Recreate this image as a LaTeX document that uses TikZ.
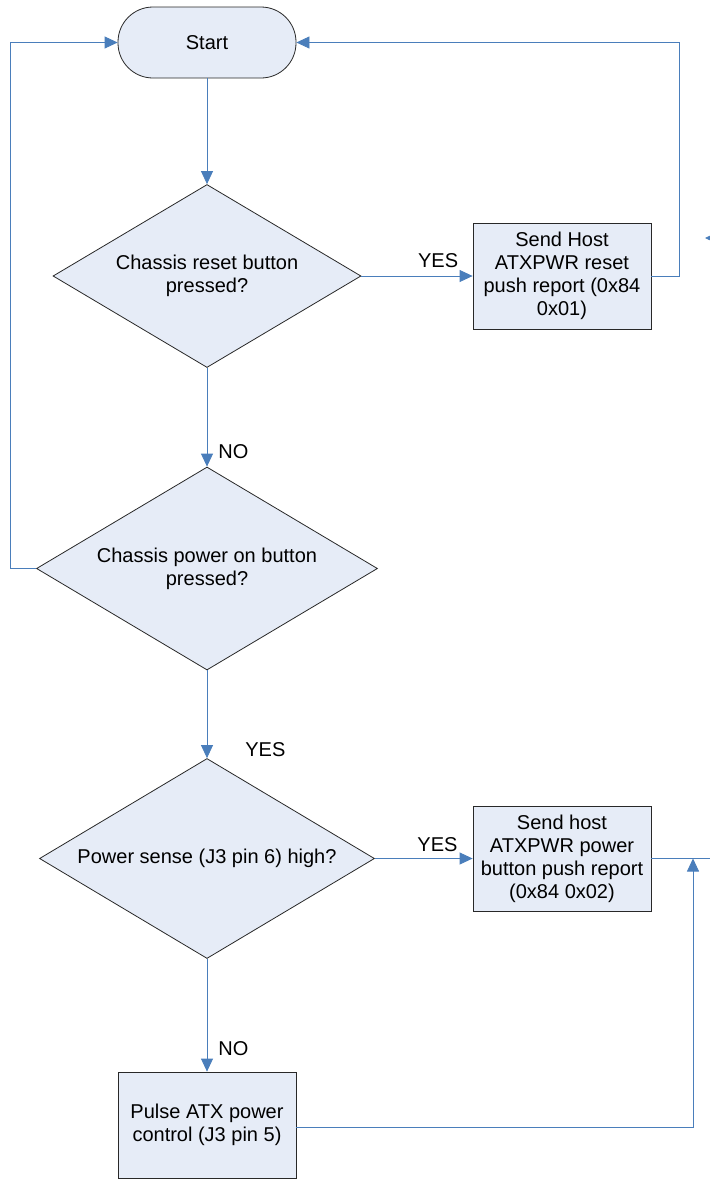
\documentclass[tikz,border=0pt]{standalone}
\usepackage{fontspec}
\setmainfont{Liberation Sans}
\usetikzlibrary{arrows.meta,shapes.geometric}

\definecolor{flowfill}{RGB}{230,236,247}
\definecolor{flowline}{RGB}{74,126,187}
\definecolor{edgegray}{RGB}{40,40,40}

\tikzset{
  every node/.style={font=\fontsize{20pt}{23pt}\selectfont},
  terminal/.style={draw=edgegray, line width=0.8pt, fill=flowfill, rectangle,
    rounded corners=35pt, minimum width=178pt, minimum height=71pt, inner sep=0pt},
  process/.style={draw=edgegray, line width=0.8pt, fill=flowfill, rectangle,
    minimum width=178pt, minimum height=106pt, inner sep=0pt, align=center},
  decision/.style={draw=edgegray, line width=0.8pt, fill=flowfill, diamond,
    inner sep=0pt},
  qtext/.style={align=center, inner sep=0pt},
  flow/.style={draw=flowline, line width=0.8pt,
    -{Triangle[length=13pt,width=12pt]}},
  wire/.style={draw=flowline, line width=0.8pt},
  tag/.style={inner sep=0pt}
}

\begin{document}
\begin{tikzpicture}[x=1pt, y=-1pt]
\useasboundingbox (0,0) rectangle (710,1179);
\clip (0,0) rectangle (710,1179);

% ---- shapes ----
\node[terminal] (start) at (207,42.5) {Start};

\node[decision, minimum width=308pt, minimum height=183pt] (d1) at (207,276) {};
\node[qtext] at (d1) {Chassis reset button\\pressed?};

\node[process] (b1) at (562,276) {Send Host\\ATXPWR reset\\push report (0x84\\0x01)};

\node[decision, minimum width=341pt, minimum height=203pt] (d2) at (207,568.5) {};
\node[qtext] at (d2) {Chassis power on button\\pressed?};

\node[decision, minimum width=335pt, minimum height=200pt] (d3) at (207,858.5) {};
\node[qtext] at (d3) {Power sense (J3 pin 6) high?};

\node[process, minimum height=105pt] (b2) at (562,858.5) {Send host\\ATXPWR power\\button push report\\(0x84 0x02)};

\node[process] (b3) at (207,1125) {Pulse ATX power\\control (J3 pin 5)};

% ---- free ends of the loop-back lines ----
\coordinate (rtop) at (679,42.5);
\coordinate (rmid) at (679,276);
\coordinate (ltop) at (10,42.5);
\coordinate (lmid) at (10,568.5);
\coordinate (joinb) at (693,1127);
\coordinate (joint) at (693,858.5);
\coordinate (offr) at (730,858.5);
\coordinate (stubA) at (740,238);
\coordinate (stubB) at (705,238);

% ---- connectors ----
\draw[flow] (start.south) -- (d1.north);
\draw[flow] (d1.east) -- node[tag, pos=0.69, above=8pt] {YES} (b1.west);
\draw[flow] (b1.east) -- (rmid) -- (rtop) -- (start.east);

\draw[flow] (d1.south) -- node[tag, pos=0.85, right=11pt] {NO} (d2.north);
\draw[flow] (d2.west) -- (lmid) -- (ltop) -- (start.west);

\draw[flow] (d2.south) -- node[tag, pos=0.9, right=38pt] {YES} (d3.north);
\draw[flow] (d3.east) -- node[tag, pos=0.64, above=6pt] {YES} (b2.west);
\draw[wire] (b2.east) -- (offr);

\draw[flow] (d3.south) -- node[tag, pos=0.8, right=11pt] {NO} (b3.north);
\draw[flow] (b3.east |- joinb) -- (joinb) -- (joint);

\draw[flow] (stubA) -- (stubB);
\end{tikzpicture}
\end{document}
